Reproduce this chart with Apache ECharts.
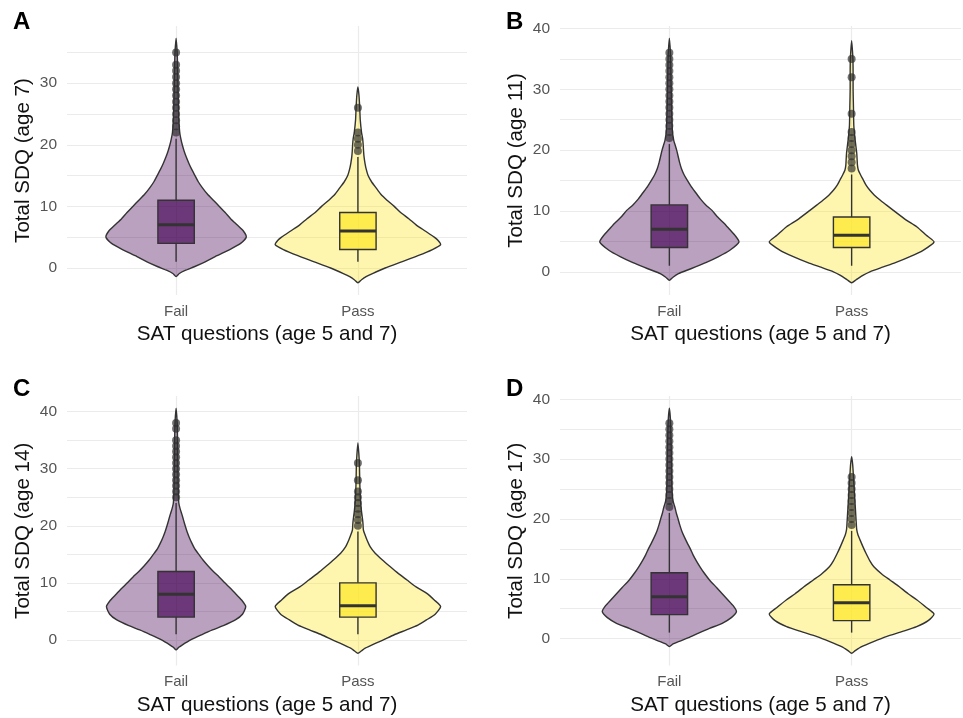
<!DOCTYPE html>
<html>
<head>
<meta charset="utf-8">
<title>SDQ violins</title>
<script src="https://cdn.jsdelivr.net/npm/echarts@6/dist/echarts.min.js"></script>
<style>
  html, body { margin: 0; padding: 0; background: #fff; }
  #chart { width: 963px; height: 718px; }
</style>
</head>
<body>
<div id="chart"></div>
<script>
// groups on the x axis
const groups = ['Fail', 'Pass'];
const panelLetters = ['A', 'B', 'C', 'D'];
const yTitles = ['Total SDQ (age 7)', 'Total SDQ (age 11)', 'Total SDQ (age 14)', 'Total SDQ (age 17)'];
const xTitle = 'SAT questions (age 5 and 7)';

// violin outlines: [score, half width in x units]
const violinFailA = [[-1.4,0],[-0.9,0.018],[-0.4,0.05],[0.2,0.1],[1,0.16],[2,0.225],[3,0.295],[4,0.355],[5,0.386],[6,0.37],[7,0.335],[8,0.3],[9,0.27],[10,0.238],[11,0.205],[12,0.172],[13,0.145],[14,0.122],[15,0.104],[16,0.086],[17,0.07],[18,0.056],[19,0.044],[20,0.034],[21,0.026],[22,0.02],[24,0.015],[27,0.012],[30,0.01],[33,0.008],[35,0.006],[37.3,0]];
const violinPassA = [[-2.4,0],[-1.9,0.02],[-1.4,0.045],[-0.9,0.08],[0,0.15],[1,0.24],[2,0.33],[3,0.41],[3.8,0.455],[4.5,0.44],[5,0.42],[6,0.37],[7,0.32],[8,0.28],[9,0.235],[10,0.2],[11,0.16],[12,0.125],[13,0.1],[14,0.075],[15,0.056],[16,0.046],[17,0.039],[18,0.034],[19,0.031],[20,0.029],[21,0.026],[22,0.02],[24,0.013],[26,0.01],[28,0.006],[29.4,0]];
const violinFailB = [[-1.4,0],[-0.9,0.02],[-0.3,0.05],[0.3,0.1],[0.8,0.143],[1.5,0.2],[2.5,0.27],[3.5,0.33],[4.9,0.382],[6,0.36],[7,0.33],[8,0.3],[9,0.265],[10.1,0.234],[11,0.2],[12,0.17],[13,0.145],[14,0.12],[15.1,0.097],[16,0.08],[17,0.066],[18,0.056],[19,0.048],[20,0.04],[21,0.03],[21.6,0.024],[23,0.017],[26,0.013],[30,0.01],[34,0.008],[36,0.006],[38.4,0]];
const violinPassB = [[-1.8,0],[-1.3,0.025],[-0.55,0.064],[0,0.1],[0.8,0.174],[1.5,0.24],[2.5,0.32],[3.5,0.39],[4.9,0.452],[6,0.41],[7.4,0.357],[8.5,0.3],[10.1,0.229],[11,0.19],[11.8,0.156],[12.6,0.125],[13.4,0.1],[14.2,0.08],[15.1,0.064],[16,0.048],[16.7,0.037],[17.5,0.032],[18.5,0.03],[19.5,0.028],[20.5,0.024],[22,0.018],[24,0.012],[27,0.01],[30,0.008],[33,0.008],[35,0.007],[38,0]];
const violinFailC = [[-1.75,0],[-1.3,0.015],[-0.9,0.033],[0,0.08],[0.9,0.14],[1.75,0.2],[2.5,0.26],[3.5,0.326],[4.5,0.365],[5.85,0.383],[7,0.36],[8,0.33],[9,0.3],[10,0.268],[11,0.238],[12,0.205],[13,0.175],[14,0.148],[15.2,0.12],[16,0.102],[17,0.086],[18,0.072],[19,0.06],[20,0.05],[21,0.041],[22,0.032],[23,0.022],[24,0.015],[26,0.012],[30,0.01],[35,0.008],[38,0.006],[40.6,0]];
const violinPassC = [[-2.34,0],[-1.9,0.02],[-1.46,0.04],[-0.7,0.09],[0,0.14],[0.9,0.2],[1.75,0.267],[2.6,0.33],[3.5,0.377],[4.5,0.425],[5.85,0.455],[7,0.42],[8.2,0.377],[9.3,0.32],[10.5,0.27],[11.7,0.22],[12.9,0.175],[14,0.135],[15.2,0.095],[16.3,0.068],[17.5,0.05],[18.5,0.038],[19.3,0.03],[20.3,0.028],[21,0.026],[22,0.022],[23,0.018],[25,0.013],[28,0.01],[31,0.008],[34.5,0]];
const violinFailD = [[-1.34,0],[-0.9,0.02],[-0.5,0.05],[0.2,0.11],[0.9,0.16],[1.7,0.22],[2.56,0.29],[3.5,0.34],[4.5,0.368],[5.5,0.35],[6.5,0.32],[7.5,0.29],[8.5,0.26],[9.8,0.22],[11,0.19],[12,0.168],[13,0.148],[14,0.13],[15,0.115],[16,0.098],[17,0.082],[18,0.068],[19,0.057],[20,0.048],[21,0.038],[22,0.03],[23,0.02],[25,0.014],[28,0.012],[32,0.01],[36,0.007],[38.5,0]];
const violinPassD = [[-2.45,0],[-2,0.02],[-1.34,0.055],[-0.5,0.12],[0.33,0.19],[1.2,0.28],[2,0.357],[3,0.42],[4.1,0.452],[5.2,0.41],[6.5,0.357],[7.5,0.31],[8.7,0.26],[9.8,0.21],[10.8,0.165],[12,0.122],[13,0.1],[14.3,0.078],[15.5,0.06],[16.5,0.046],[17.3,0.035],[18.2,0.028],[19.5,0.025],[21,0.022],[23,0.018],[25,0.014],[27,0.01],[29,0.006],[30.4,0]];

// box stats: [lower whisker, Q1, median, Q3, upper whisker], Fail then Pass
const boxA = [[1, 4, 7, 11, 21], [1, 3, 6, 9, 18]];
const boxB = [[1, 4, 7, 11, 21], [1, 4, 6, 9, 16]];
const boxC = [[1, 4, 8, 12, 24], [1, 4, 6, 10, 19]];
const boxD = [[1, 4, 7, 11, 21], [1, 3, 6, 9, 18]];

// outlier scores
const outFailA = [22, 23, 24, 25, 26, 27, 28, 29, 30, 31, 32, 33, 35];
const outPassA = [19, 20, 21, 22, 26];
const outFailB = [22, 23, 24, 25, 26, 27, 28, 29, 30, 31, 32, 33, 34, 35, 36];
const outPassB = [17, 18, 19, 20, 21, 22, 23, 26, 32, 35];
const outFailC = [25, 26, 27, 28, 29, 30, 31, 32, 33, 34, 35, 37, 38];
const outPassC = [20, 21, 22, 23, 24, 25, 26, 28, 31];
const outFailD = [22, 23, 24, 25, 26, 27, 28, 29, 30, 31, 32, 33, 34, 35, 36];
const outPassD = [19, 20, 21, 22, 23, 24, 25, 26, 27];

const violins = [[violinFailA, violinPassA], [violinFailB, violinPassB], [violinFailC, violinPassC], [violinFailD, violinPassD]];
const boxes = [boxA, boxB, boxC, boxD];
const outliers = [[outFailA, outPassA], [outFailB, outPassB], [outFailC, outPassC], [outFailD, outPassD]];

const violinFill = ['rgba(68,1,84,0.37)', 'rgba(253,231,37,0.37)'];
const boxFill = ['rgba(68,1,84,0.66)', 'rgba(253,231,37,0.7)'];
const ink = '#333333';
const font = 'Liberation Sans, Arial, sans-serif';

const gridPos = [
  { left: 67, top: 26, width: 400, height: 269 },
  { left: 560, top: 26, width: 401, height: 269 },
  { left: 67, top: 396, width: 400, height: 269.5 },
  { left: 560, top: 396, width: 401, height: 269.5 }
];
// where the panel letters sit
const letterPos = [[13, 10], [506, 10], [13, 377], [506, 377]];

function violinItem(shape, fill) {
  return function (params, api) {
    const x0 = api.value(0);
    const pts = shape.map(p => api.coord([x0 - p[1], p[0]]));
    for (let i = shape.length - 2; i >= 1; i--) {
      pts.push(api.coord([x0 + shape[i][1], shape[i][0]]));
    }
    return {
      type: 'polygon',
      shape: { points: pts, smooth: 0.2 },
      style: { fill: fill, stroke: ink, lineWidth: 1.4 }
    };
  };
}

function boxItem(params, api) {
  const x0 = api.value(0);
  const lo = api.coord([x0, api.value(1)]);
  const q1 = api.coord([x0, api.value(2)]);
  const md = api.coord([x0, api.value(3)]);
  const q3 = api.coord([x0, api.value(4)]);
  const hi = api.coord([x0, api.value(5)]);
  const half = api.size([0.1, 0])[0];
  const fill = boxFill[params.dataIndex];
  return {
    type: 'group',
    children: [
      { type: 'line', shape: { x1: lo[0], y1: lo[1], x2: q1[0], y2: q1[1] }, style: { stroke: ink, lineWidth: 1.4 } },
      { type: 'line', shape: { x1: q3[0], y1: q3[1], x2: hi[0], y2: hi[1] }, style: { stroke: ink, lineWidth: 1.4 } },
      { type: 'rect', shape: { x: q3[0] - half, y: q3[1], width: half * 2, height: q1[1] - q3[1] }, style: { fill: fill, stroke: ink, lineWidth: 1.4 } },
      { type: 'line', shape: { x1: md[0] - half, y1: md[1], x2: md[0] + half, y2: md[1] }, style: { stroke: ink, lineWidth: 3 } }
    ]
  };
}

const chart = echarts.init(document.getElementById('chart'));
const grid = [], xAxis = [], yAxis = [], series = [], title = [];

for (let p = 0; p < 4; p++) {
  grid.push(Object.assign({ outerBoundsMode: 'none', containLabel: false }, gridPos[p]));
  title.push({
    text: panelLetters[p],
    left: letterPos[p][0],
    top: letterPos[p][1],
    padding: 0,
    textStyle: { fontSize: 24, fontWeight: 'bold', color: '#000', fontFamily: font }
  });

  // y range: violin extent plus 5% each side
  let lo = Infinity, hi = -Infinity;
  violins[p].forEach(v => v.forEach(pt => { lo = Math.min(lo, pt[0]); hi = Math.max(hi, pt[0]); }));
  const pad = (hi - lo) * 0.05;
  const yMin = lo - pad, yMax = hi + pad;
  const ticks = [], labels = [];
  for (let t = 0; t <= yMax; t += 5) { ticks.push(t); if (t % 10 === 0) labels.push(t); }

  xAxis.push({
    gridIndex: p, type: 'value', min: 0.4, max: 2.6,
    name: xTitle, nameLocation: 'middle', nameGap: 29,
    nameTextStyle: { fontSize: 20.6, color: '#111', fontFamily: font },
    axisLine: { show: false },
    axisTick: { show: false, customValues: [1, 2] },
    axisLabel: { customValues: [1, 2], formatter: v => groups[Math.round(v) - 1], fontSize: 15, color: '#555', margin: 9, fontFamily: font },
    splitLine: { show: true, lineStyle: { color: '#ebebeb', width: 1.2 } }
  });
  yAxis.push({
    gridIndex: p, type: 'value', min: yMin, max: yMax,
    name: yTitles[p], nameLocation: 'middle', nameGap: 33,
    nameTextStyle: { fontSize: 20.6, color: '#111', fontFamily: font },
    axisLine: { show: false },
    axisTick: { show: false, customValues: ticks },
    axisLabel: { customValues: labels, fontSize: 15.5, color: '#555', margin: 10, fontFamily: font },
    splitLine: { show: true, lineStyle: { color: '#ebebeb', width: 1.2 } }
  });

  for (let g = 0; g < 2; g++) {
    series.push({
      type: 'custom', xAxisIndex: p, yAxisIndex: p, silent: true,
      renderItem: violinItem(violins[p][g], violinFill[g]),
      data: [[g + 1, 0]], z: 2
    });
  }
  series.push({
    type: 'custom', xAxisIndex: p, yAxisIndex: p, silent: true,
    renderItem: boxItem,
    data: boxes[p].map((b, g) => [g + 1].concat(b)), z: 3
  });
  for (let g = 0; g < 2; g++) {
    series.push({
      type: 'scatter', xAxisIndex: p, yAxisIndex: p, silent: true,
      symbolSize: 8,
      itemStyle: { color: 'rgba(45,45,45,0.85)' },
      data: outliers[p][g].map(v => [g + 1, v]), z: 4
    });
  }
}

chart.setOption({
  backgroundColor: '#fff',
  animation: false,
  title: title,
  grid: grid,
  xAxis: xAxis,
  yAxis: yAxis,
  series: series
});
</script>
</body>
</html>
